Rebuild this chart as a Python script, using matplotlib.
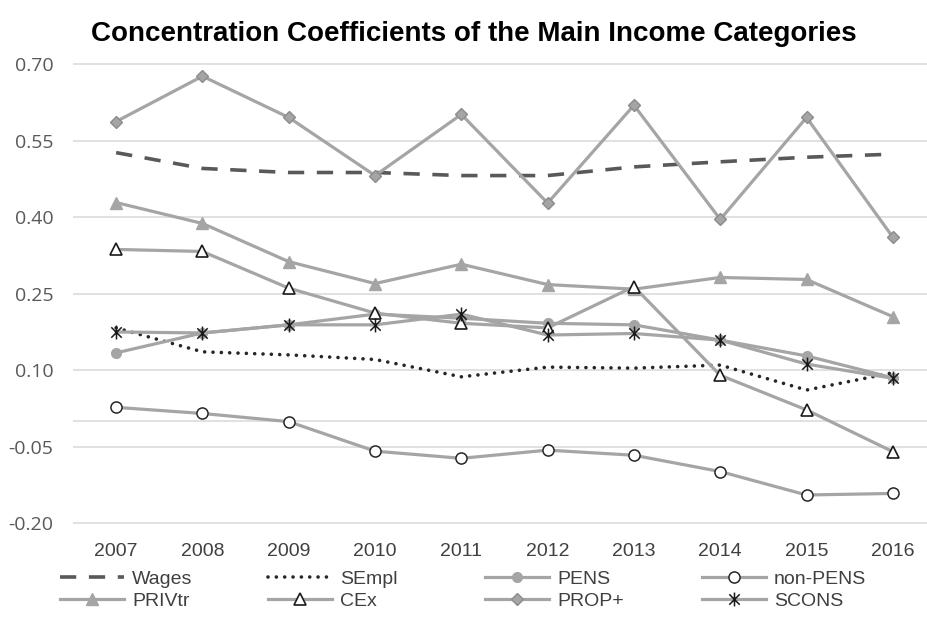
import matplotlib.pyplot as plt
from matplotlib.path import Path

years = [2007, 2008, 2009, 2010, 2011, 2012, 2013, 2014, 2015, 2016]

wages = [0.527, 0.496, 0.488, 0.488, 0.482, 0.482, 0.499, 0.509, 0.518, 0.524]
sempl = [0.183, 0.136, 0.130, 0.121, 0.087, 0.106, 0.104, 0.110, 0.061, 0.095]
pens = [0.134, 0.173, 0.189, 0.210, 0.202, 0.192, 0.189, 0.159, 0.128, 0.085]
non_pens = [0.027, 0.015, -0.001, -0.059, -0.073, -0.057, -0.067, -0.099, -0.145, -0.142]
privtr = [0.429, 0.388, 0.313, 0.270, 0.308, 0.268, 0.259, 0.282, 0.278, 0.205]
cex = [0.337, 0.333, 0.261, 0.212, 0.192, 0.183, 0.264, 0.090, 0.022, -0.060]
prop = [0.588, 0.677, 0.596, 0.482, 0.602, 0.428, 0.620, 0.396, 0.596, 0.361]
scons = [0.175, 0.173, 0.189, 0.189, 0.210, 0.169, 0.172, 0.159, 0.112, 0.084]

yticks = [0.70, 0.55, 0.40, 0.25, 0.10, -0.05, -0.20]

gray = '#a5a5a5'
lw = 2.3

# asterisk-style marker: vertical bar plus a cross
star = Path([(0, -1), (0, 1), (-0.75, -0.75), (0.75, 0.75), (-0.75, 0.75), (0.75, -0.75)],
            [Path.MOVETO, Path.LINETO, Path.MOVETO, Path.LINETO, Path.MOVETO, Path.LINETO])

fig = plt.figure(figsize=(9.28, 6.19), dpi=100)
ax = fig.add_axes([73 / 928, 1 - 528.1 / 619, 863 / 928, 468.7 / 619])

styles = {
    'Wages': dict(color='#595959', lw=2.6, ls=(0, (4.5, 3.5))),
    'SEmpl': dict(color='#262626', lw=2.6, ls=(0, (0.01, 2.3)), dash_capstyle='round'),
    'PENS': dict(color=gray, lw=lw, marker='o', ms=7, mfc=gray, mec=gray),
    'non-PENS': dict(color=gray, lw=lw, marker='o', ms=8, mfc='white', mec='#262626', mew=1.1),
    'PRIVtr': dict(color=gray, lw=lw, marker='^', ms=8.5, mfc=gray, mec=gray),
    'CEx': dict(color=gray, lw=lw, marker='^', ms=9, mfc='white', mec='#1a1a1a', mew=1.2),
    'PROP+': dict(color=gray, lw=lw, marker='D', ms=6.5, mfc=gray, mec='#8c8c8c', mew=1),
    'SCONS': dict(color=gray, lw=lw, marker=star, ms=10, mfc='none', mec='#1a1a1a', mew=1.1),
}
series = {
    'Wages': wages, 'SEmpl': sempl, 'PENS': pens, 'non-PENS': non_pens,
    'PRIVtr': privtr, 'CEx': cex, 'PROP+': prop, 'SCONS': scons,
}

handles = {}
for i, (name, vals) in enumerate(series.items()):
    ln, = ax.plot(years, vals, label=name, zorder=3 + i, **styles[name])
    handles[name] = ln

ax.set_xlim(2006.5, 2016.5)
ax.set_ylim(-0.21, 0.71)
ax.set_yticks(yticks)
ax.set_yticklabels([f'{t:.2f}' for t in yticks])
ax.set_yticks([0.0], minor=True)
ax.set_xticks(years)
ax.grid(axis='y', which='both', color='#d9d9d9', lw=1.1)
for s in ax.spines.values():
    s.set_visible(False)
ax.tick_params(axis='y', length=0, pad=14, labelsize=14, labelcolor='#595959')
ax.tick_params(axis='y', which='minor', length=0)
for lab in ax.get_yticklabels():
    lab.set_family('Open Sans')
ax.tick_params(axis='x', length=0, pad=11, labelsize=14, labelcolor='#404040')
for lab in ax.get_xticklabels():
    lab.set_family('Liberation Sans')

fig.text(0.511, 1 - 41 / 619, 'Concentration Coefficients of the Main Income Categories',
         ha='center', va='baseline', fontsize=20, fontweight='bold',
         family='Liberation Sans', color='black')
fig.text(885 / 928, 1 + 5 / 619, 'g', ha='center', va='baseline', fontsize=16,
         fontweight='bold', family='Liberation Sans', color='black')

# legend: four columns of two entries each
columns = [('Wages', 'PRIVtr'), ('SEmpl', 'CEx'), ('PENS', 'PROP+'), ('non-PENS', 'SCONS')]
col_x = [60, 268, 485, 702]
for names, x in zip(columns, col_x):
    leg = fig.legend([handles[n] for n in names], list(names), loc='upper left',
                     bbox_to_anchor=(x / 928, 1 - 570 / 619), frameon=False,
                     prop={'family': 'Liberation Sans', 'size': 14},
                     handlelength=3.3, handletextpad=0.4, labelspacing=0.22,
                     borderpad=0, borderaxespad=0)
    for t in leg.get_texts():
        t.set_color('#404040')

fig.savefig('out.png', dpi=100)
